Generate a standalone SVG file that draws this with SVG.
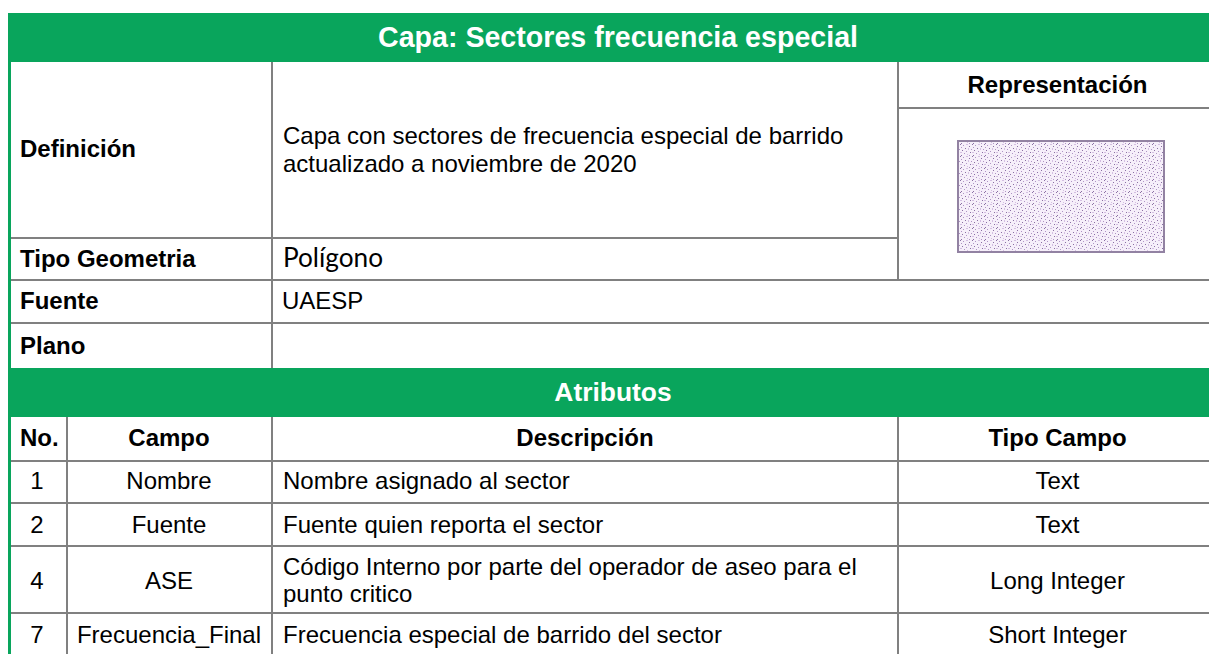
<svg xmlns="http://www.w3.org/2000/svg" width="1209" height="654" viewBox="0 0 1209 654">
<style>
  .t { font-family: "Liberation Sans", Arial, sans-serif; font-size: 24px; fill: #000; }
  .b { font-weight: bold; }
  .c { text-anchor: middle; }
  .w { fill: #fff; font-weight: bold; }
  .g { fill: #09A55C; }
  .ln { stroke: #808080; stroke-width: 2; fill: none; }
  .d1 { fill: #8a70a3; }
  .d2 { fill: #b095c6; }
  .d3 { fill: #d4bfe2; }
</style>
<defs>
  <pattern id="stip" x="0" y="0" width="12" height="12" patternUnits="userSpaceOnUse">
    <rect width="12" height="12" fill="#f6effa"/>
    <rect class="d1" x="0" y="0" width="1" height="1"/>
    <rect class="d2" x="3" y="1" width="1" height="1"/>
    <rect class="d3" x="6" y="0" width="2" height="1"/>
    <rect class="d1" x="9" y="2" width="1" height="1"/>
    <rect class="d2" x="1" y="3" width="1" height="1"/>
    <rect class="d1" x="5" y="4" width="1" height="1"/>
    <rect class="d3" x="8" y="4" width="1" height="2"/>
    <rect class="d2" x="11" y="5" width="1" height="1"/>
    <rect class="d1" x="2" y="6" width="1" height="1"/>
    <rect class="d3" x="0" y="8" width="2" height="1"/>
    <rect class="d2" x="6" y="7" width="1" height="1"/>
    <rect class="d1" x="10" y="8" width="1" height="1"/>
    <rect class="d2" x="4" y="9" width="1" height="1"/>
    <rect class="d3" x="7" y="10" width="1" height="1"/>
    <rect class="d1" x="1" y="11" width="1" height="1"/>
    <rect class="d2" x="9" y="11" width="1" height="1"/>
  </pattern>
</defs>
<rect width="1209" height="654" fill="#fff"/>

<g id="header">
  <rect class="g" x="8" y="13" width="1201" height="49"/>
  <text class="t w c" x="618" y="47" style="font-size:28.6px">Capa: Sectores frecuencia especial</text>
</g>

<rect id="left-border" class="g" x="8" y="62" width="3" height="592"/>

<g id="grid">
  <line class="ln" x1="272" y1="62" x2="272" y2="368"/>
  <line class="ln" x1="898" y1="62" x2="898" y2="280"/>
  <line class="ln" x1="898" y1="108" x2="1209" y2="108"/>
  <line class="ln" x1="11" y1="238" x2="898" y2="238"/>
  <line class="ln" x1="11" y1="280" x2="1209" y2="280"/>
  <line class="ln" x1="11" y1="323" x2="1209" y2="323"/>
  <line class="ln" x1="67" y1="417" x2="67" y2="654"/>
  <line class="ln" x1="272" y1="417" x2="272" y2="654"/>
  <line class="ln" x1="898" y1="417" x2="898" y2="654"/>
  <line class="ln" x1="11" y1="461" x2="1209" y2="461"/>
  <line class="ln" x1="11" y1="503" x2="1209" y2="503"/>
  <line class="ln" x1="11" y1="546" x2="1209" y2="546"/>
  <line class="ln" x1="11" y1="613" x2="1209" y2="613"/>
</g>

<g id="definicion">
  <text class="t b" x="20" y="157">Definición</text>
  <text class="t" x="283" y="144">Capa con sectores de frecuencia especial de barrido</text>
  <text class="t" x="283" y="172">actualizado a noviembre de 2020</text>
</g>

<g id="representacion">
  <text class="t b c" x="1057.5" y="93">Representación</text>
  <rect x="958" y="141" width="206" height="111" fill="url(#stip)" stroke="#9282a2" stroke-width="2"/>
</g>

<g id="tipo-geometria">
  <text class="t b" x="20" y="267">Tipo Geometria</text>
  <text x="283" y="267" style="font-family: Lato, 'Open Sans', sans-serif; font-size:26px; fill:#000" textLength="100" lengthAdjust="spacingAndGlyphs">Polígono</text>
</g>

<g id="fuente">
  <text class="t b" x="20" y="309">Fuente</text>
  <text class="t" x="282" y="309">UAESP</text>
</g>

<g id="plano">
  <text class="t b" x="20" y="354">Plano</text>
</g>

<g id="atributos">
  <rect class="g" x="8" y="368" width="1201" height="49"/>
  <text class="t w c" x="613" y="401" style="font-size:26.4px">Atributos</text>
</g>

<g id="col-headers">
  <text class="t b" x="20" y="446">No.</text>
  <text class="t b c" x="169" y="446">Campo</text>
  <text class="t b c" x="585" y="446">Descripción</text>
  <text class="t b c" x="1057.5" y="446">Tipo Campo</text>
</g>

<g id="row-1">
  <text class="t c" x="37" y="489">1</text>
  <text class="t c" x="169" y="489">Nombre</text>
  <text class="t" x="283" y="489">Nombre asignado al sector</text>
  <text class="t c" x="1057.5" y="489">Text</text>
</g>

<g id="row-2">
  <text class="t c" x="37" y="533">2</text>
  <text class="t c" x="169" y="533">Fuente</text>
  <text class="t" x="283" y="533">Fuente quien reporta el sector</text>
  <text class="t c" x="1057.5" y="533">Text</text>
</g>

<g id="row-4">
  <text class="t c" x="37" y="589">4</text>
  <text class="t c" x="169" y="589">ASE</text>
  <text class="t" x="283" y="575">Código Interno por parte del operador de aseo para el</text>
  <text class="t" x="283" y="602">punto critico</text>
  <text class="t c" x="1057.5" y="589">Long Integer</text>
</g>

<g id="row-7">
  <text class="t c" x="37" y="643">7</text>
  <text class="t c" x="169" y="643">Frecuencia_Final</text>
  <text class="t" x="283" y="643">Frecuencia especial de barrido del sector</text>
  <text class="t c" x="1057.5" y="643">Short Integer</text>
</g>
</svg>
